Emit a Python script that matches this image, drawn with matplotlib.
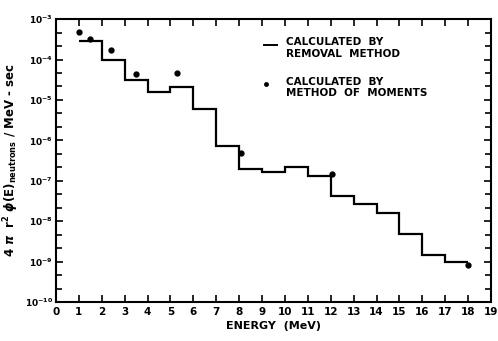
import numpy as np
import matplotlib
matplotlib.use("Agg")
import matplotlib.pyplot as plt

# removal method: step levels between integer energies 1..18 MeV
energy_edges = list(range(1, 19))
removal_flux = [2.9e-4, 1.0e-4, 3.2e-5, 1.6e-5, 2.1e-5, 6.0e-6, 7.4e-7, 1.95e-7,
                1.64e-7, 2.2e-7, 1.33e-7, 4.1e-8, 2.7e-8, 1.55e-8, 4.7e-9,
                1.47e-9, 1.0e-9]

# method of moments points
moments_energy = [1.0, 1.5, 2.4, 3.5, 5.3, 8.1, 12.05, 18.0]
moments_flux = [4.7e-4, 3.2e-4, 1.7e-4, 4.5e-5, 4.6e-5, 4.8e-7, 1.5e-7, 8.1e-10]

x_ticks = list(range(0, 20))
y_exponents = [-10, -9, -8, -7, -6, -5, -4, -3]

plt.rcParams['font.family'] = 'DejaVu Sans'
plt.rcParams['font.weight'] = 'bold'

fig = plt.figure(figsize=(4.98, 3.41), dpi=100)
ax = fig.add_axes([0.1124, 0.1144, 0.8736, 0.8296])

ax.stairs(removal_flux, energy_edges, baseline=None, color='black', linewidth=1.6)
ax.plot(moments_energy, moments_flux, 'o', color='black', markersize=3.5)

ax.set_yscale('log')
ax.set_xlim(0, 19)
ax.set_ylim(1e-10, 1e-3)

ax.set_xticks(x_ticks)
ax.set_xticklabels([str(v) for v in x_ticks], fontsize=7.5, fontweight='bold')
ax.set_yticks([10.0 ** e for e in y_exponents])
ax.set_yticklabels([r'$\mathbf{10^{%d}}$' % e for e in y_exponents], fontsize=6.5)
minor = []
for e in y_exponents[:-1]:
    minor += [10.0 ** (e + 1 / 3), 10.0 ** (e + 2 / 3)]
ax.set_yticks(minor, minor=True)
ax.yaxis.set_minor_formatter(plt.NullFormatter())
ax.xaxis.set_minor_locator(plt.NullLocator())

ax.tick_params(which='both', direction='in', top=True, right=True, length=4, width=1.2)
ax.tick_params(which='major', length=5)
ax.tick_params(axis='y', pad=2)
for s in ax.spines.values():
    s.set_linewidth(1.5)

ax.set_xlabel('ENERGY  (MeV)', fontsize=8, fontweight='bold', labelpad=3)
ax.set_ylabel(r'4 $\pi$  r$^2$ $\phi$(E)$_{\rm neutrons}$ / MeV - sec',
              fontsize=8.5, fontweight='bold')
ax.yaxis.set_label_coords(-0.08, 0.5)

# legend drawn as text
ax.plot([0.479, 0.509], [0.91, 0.91], transform=ax.transAxes, color='black', linewidth=1.4)
ax.text(0.528, 0.935, 'CALCULATED  BY\nREMOVAL  METHOD', transform=ax.transAxes,
        fontsize=7.5, fontweight='bold', va='top', ha='left', linespacing=1.15)
ax.plot([0.482], [0.77], 'o', transform=ax.transAxes, color='black', markersize=2.5)
ax.text(0.528, 0.795, 'CALCULATED  BY\nMETHOD  OF  MOMENTS', transform=ax.transAxes,
        fontsize=7.5, fontweight='bold', va='top', ha='left', linespacing=1.15)

fig.savefig('out.png', dpi=100)
